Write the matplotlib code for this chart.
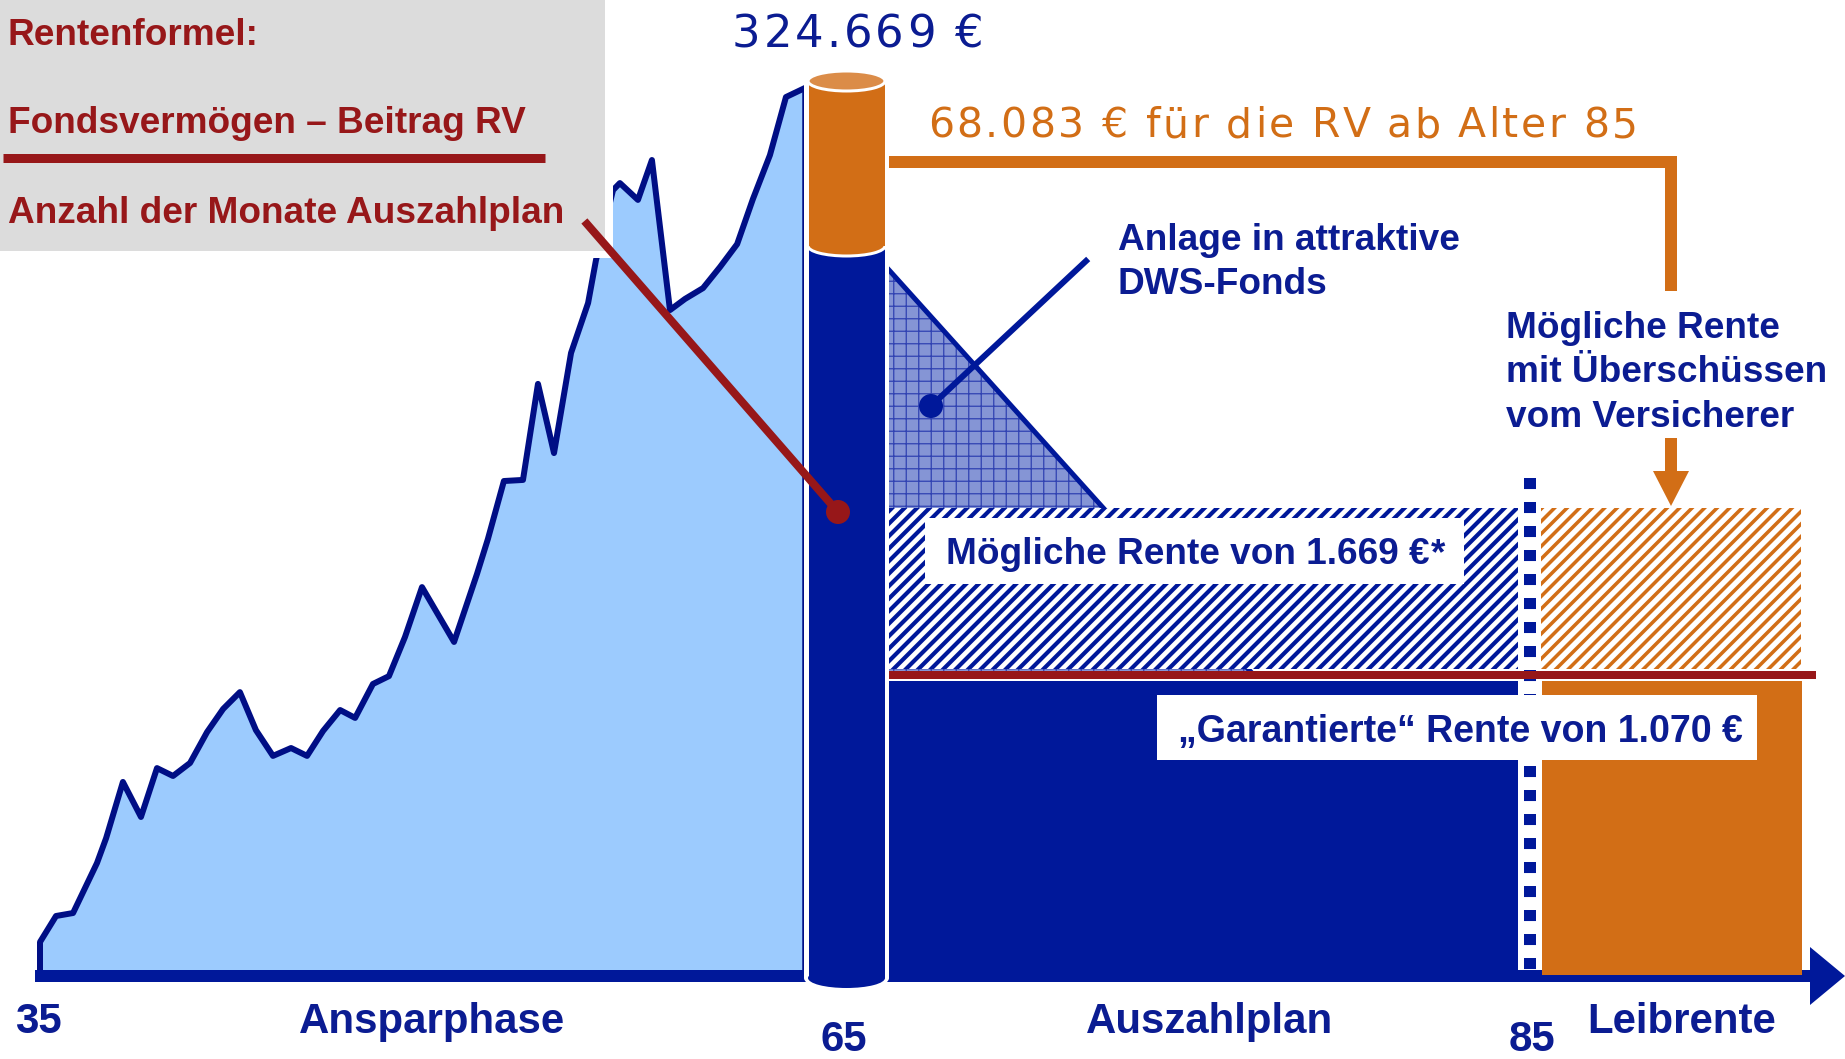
import matplotlib
matplotlib.use('Agg')
import matplotlib.pyplot as plt
from matplotlib.patches import Rectangle, Ellipse, Polygon, Circle, FancyArrow
from matplotlib.font_manager import FontProperties

# ---- data ----
# savings phase: age and fund value (thousand EUR)
ages = [35.00, 35.63, 36.30, 37.24, 37.60, 38.26, 38.97, 39.60, 40.23, 40.90,
        41.57, 42.20, 42.86, 43.49, 44.16, 44.87, 45.50, 46.13, 46.80, 47.39,
        48.09, 48.72, 49.35, 50.02, 51.28, 52.18, 52.61, 53.24, 53.99, 54.58,
        55.21, 55.88, 56.55, 56.86, 57.53, 57.80, 58.51, 59.06, 59.77, 60.36,
        61.07, 61.74, 62.41, 63.03, 63.70, 64.33, 65.00]
fund_k = [10.3, 19.9, 21.0, 39.4, 48.6, 69.3, 56.4, 74.4, 71.5, 76.3,
          87.7, 96.2, 102.4, 88.4, 78.9, 81.8, 78.9, 88.1, 95.8, 92.9,
          105.4, 108.3, 122.7, 141.1, 120.9, 145.9, 158.8, 180.2, 180.6, 216.0,
          190.5, 227.4, 245.8, 261.6, 287.4, 290.0, 283.8, 298.5, 243.2, 247.3,
          251.3, 259.1, 267.5, 284.1, 300.3, 321.7, 324.7]

fund_total = '324.669 €'
rv_text = '68.083 € für die RV ab Alter 85'
rente_moeglich = 1669     # EUR / month
rente_garantiert = 1070   # EUR / month

formula_lines = ['Rentenformel:', 'Fondsvermögen – Beitrag RV', 'Anzahl der Monate Auszahlplan']
axis_labels = ['35', 'Ansparphase', '65', 'Auszahlplan', '85', 'Leibrente']

# ---- colours ----
NAVY = '#00189A'
NAVY_TXT = '#0B1C92'
LINE_NAVY = '#000E85'
LIGHT_BLUE = '#9CCBFE'
ORANGE = '#D26E16'
ORANGE_TOP = '#DB8C48'
DARK_RED = '#971719'
GREY = '#DCDCDC'
GRID_FILL = '#8595D5'

DPI = 150
PT = 72 / DPI   # points per pixel

plt.rcParams['font.family'] = ['Liberation Sans', 'DejaVu Sans']

fig = plt.figure(figsize=(1845 / DPI, 1059 / DPI), dpi=DPI)
ax = fig.add_axes([0, 0, 1, 1])
ax.set_xlim(0, 1845)
ax.set_ylim(1059, 0)
ax.axis('off')
renderer = fig.canvas.get_renderer()

BASE = 970


def age_x(a):
    return 40 + (a - 35) * 763 / 30


def val_y(v):
    return BASE - v * 881 / 324.669


def rente_y(r):
    return 975 - r * 0.28


def text_w(s, fp):
    return renderer.get_text_width_height_descent(s, fp, ismath=False)[0]


def tracked_text(x0, x1, y, s, size_px, color):
    # wide thin font with some letter spacing, spread between x0 and x1
    fp = FontProperties(family=['DejaVu Sans'], weight='normal', size=size_px * PT)
    bar = text_w('|', fp)
    track = (x1 - x0 - text_w(s, fp)) / (len(s) - 1)
    for i, ch in enumerate(s):
        if ch == ' ':
            continue
        off = text_w(s[:i] + '|', fp) - bar if i else 0
        ax.text(x0 + off + i * track, y, ch, fontproperties=fp, color=color,
                va='baseline', ha='left', zorder=8)


# savings curve
xs = [age_x(a) for a in ages]
ys = [val_y(v) for v in fund_k]
ax.fill_between(xs, ys, BASE, color=LIGHT_BLUE, lw=0, zorder=1)
ax.plot([xs[0]] + xs, [BASE] + ys, color=LINE_NAVY, lw=6 * PT,
        solid_joinstyle='round', zorder=2)
ax.plot([xs[-1], xs[-1]], [ys[-1], BASE], color=LINE_NAVY, lw=2.5 * PT, zorder=2)

# time axis with arrow
ax.add_patch(Rectangle((35, 970), 1777, 12, fc=NAVY, lw=0, zorder=3))
ax.add_patch(Polygon([(1810, 947), (1845, 976), (1810, 1005)], fc=NAVY, lw=0, zorder=3))

# payout phase
y_g = rente_y(rente_garantiert)
y_m = rente_y(rente_moeglich)

# triangle "DWS-Fonds" (grid)
with plt.rc_context({'hatch.linewidth': 0.6}):
    ax.add_patch(Polygon([(889, 270), (889, y_g), (1254, y_g)], fc=GRID_FILL,
                         ec='#3042B2', lw=0, hatch='++', zorder=2))
ax.plot([889, 1254], [270, y_g], color=NAVY, lw=5 * PT, zorder=2)

# hatched possible pension
with plt.rc_context({'hatch.linewidth': 2.0}):
    ax.add_patch(Rectangle((887, y_m), 631, (y_g - 6) - y_m, fc='white',
                           ec=NAVY, lw=0, hatch='////', zorder=3))
with plt.rc_context({'hatch.linewidth': 1.7}):
    ax.add_patch(Rectangle((1541, y_m), 260, (y_g - 6) - y_m, fc='white',
                           ec=ORANGE, lw=0, hatch='////', zorder=3))

# guaranteed pension blocks
ax.add_patch(Rectangle((887, y_g + 6), 631, 975 - (y_g + 6), fc=NAVY, lw=0, zorder=3))
ax.add_patch(Rectangle((1542, y_g + 6), 260, 975 - (y_g + 6), fc=ORANGE, lw=0, zorder=3))

# dotted age-85 line
ax.plot([1530, 1530], [478, 975], color=NAVY, lw=12 * PT, dashes=(0.92, 1.08),
        zorder=4)

# red guaranteed line
ax.plot([885, 1816], [y_g, y_g], color=DARK_RED, lw=8 * PT,
        solid_capstyle='butt', zorder=6)

# label boxes
bold37 = FontProperties(family=['Liberation Sans', 'DejaVu Sans'], weight='bold', size=37 * PT)
ax.add_patch(Rectangle((925, 518), 539, 66, fc='white', lw=0, zorder=5))
main_txt = 'Mögliche Rente von 1.669 €'
ax.text(946, 564, main_txt, color=NAVY_TXT, fontproperties=bold37,
        va='baseline', ha='left', zorder=6)
ax.text(946 + text_w(main_txt, bold37) + 1, 564, '*', color=NAVY_TXT, fontproperties=bold37,
        va='baseline', ha='left', zorder=6)
ax.add_patch(Rectangle((1157, 695), 600, 65, fc='white', lw=0, zorder=5))
ax.text(1178, 742, '„Garantierte“ Rente von 1.070 €', color=NAVY_TXT,
        fontsize=37.5 * PT, fontweight='bold', va='baseline', ha='left', zorder=6)

# orange bracket + arrow
ax.add_patch(Rectangle((888, 156), 789, 12, fc=ORANGE, lw=0, zorder=4))
ax.add_patch(Rectangle((1665, 156), 12, 135, fc=ORANGE, lw=0, zorder=4))
ax.add_patch(FancyArrow(1671, 438, 0, 68, width=12, head_width=36, head_length=35,
                        length_includes_head=True, fc=ORANGE, lw=0, zorder=4))

# cylinder (fund at 65)
ax.add_patch(Rectangle((804, 81), 85, 897, fc='white', lw=0, zorder=9))
ax.add_patch(Ellipse((846.5, 978), 85, 26, fc='white', lw=0, zorder=9))
ax.add_patch(Rectangle((808.5, 246), 76.5, 732, fc=NAVY, lw=0, zorder=10))
ax.add_patch(Ellipse((846.5, 978), 77, 20, fc=NAVY, lw=0, zorder=10))
ax.add_patch(Ellipse((846.5, 246), 77, 20, fc=ORANGE, ec='white', lw=3 * PT, zorder=11))
ax.add_patch(Rectangle((808.5, 81), 76.5, 165, fc=ORANGE, lw=0, zorder=12))
ax.add_patch(Ellipse((846.5, 81), 77, 20, fc=ORANGE_TOP, ec='white', lw=3 * PT, zorder=13))

# formula box
ax.add_patch(Rectangle((0, 0), 613, 258, fc='white', lw=0, zorder=6))
ax.add_patch(Rectangle((0, 0), 605, 251, fc=GREY, lw=0, zorder=7))
for txt, yb in zip(formula_lines, [45, 133, 223]):
    ax.text(8, yb, txt, color=DARK_RED, fontsize=37 * PT, fontweight='bold',
            va='baseline', ha='left', zorder=8)
ax.plot([3, 545], [158, 158], color=DARK_RED, lw=9 * PT, solid_capstyle='butt', zorder=8)

# red leader line to cylinder
ax.plot([587, 838], [224, 512], color=DARK_RED, lw=8 * PT, zorder=14)
ax.add_patch(Circle((838, 512), 12, fc=DARK_RED, lw=0, zorder=14))

# blue leader to triangle
ax.plot([1086, 931], [261, 406], color=NAVY, lw=6 * PT, zorder=7)
ax.add_patch(Circle((931, 406), 12, fc=NAVY, lw=0, zorder=7))

# annotations
ax.text(1118, 250, 'Anlage in attraktive', color=NAVY_TXT, fontproperties=bold37,
        va='baseline', zorder=8)
ax.text(1118, 294, 'DWS-Fonds', color=NAVY_TXT, fontproperties=bold37,
        va='baseline', zorder=8)
for txt, yb in zip(['Mögliche Rente', 'mit Überschüssen', 'vom Versicherer'], [338, 382, 427]):
    ax.text(1506, yb, txt, color=NAVY_TXT, fontproperties=bold37,
            va='baseline', zorder=8)

tracked_text(732, 984, 47, fund_total, 45, NAVY_TXT)
tracked_text(928, 1638, 137, rv_text, 41, ORANGE)

# axis labels
label_x = [38, 432, 844, 1210, 1532, 1682]
label_y = [1033, 1033, 1051, 1033, 1051, 1033]
for txt, lx, ly in zip(axis_labels, label_x, label_y):
    ax.text(lx, ly, txt, color=NAVY_TXT, fontsize=42 * PT, fontweight='bold',
            ha='center', va='baseline', zorder=8)

fig.savefig('out.png', dpi=DPI)
